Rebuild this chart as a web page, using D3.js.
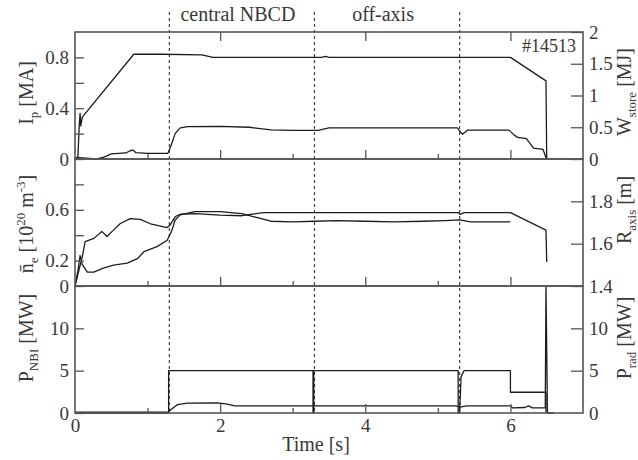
<!DOCTYPE html>
<html>
<head>
<meta charset="utf-8">
<script src="https://cdn.jsdelivr.net/npm/d3@7"></script>
<style>
  body { margin: 0; background: #fff; }
  svg { display: block; }
  text { font-family: "Liberation Serif", "Times New Roman", serif; fill: #383838; }
</style>
</head>
<body>
<svg id="chart" width="638" height="460"></svg>
<script>
// ---- time traces (time in s) ----
const ipT = [0, 0.04, 0.06, 0.07, 0.08, 0.1, 0.81, 1.2, 1.75, 1.9, 3.4, 3.45, 3.5, 4.5, 5.3, 6.0, 6.49, 6.5];
const ipV = [0, 0.02, 0.28, 0.36, 0.26, 0.33, 0.825, 0.825, 0.82, 0.80, 0.80, 0.808, 0.80, 0.80, 0.80, 0.80, 0.615, 0];

const wT = [0, 0.05, 0.3, 0.4, 0.5, 0.7, 0.76, 0.8, 0.84, 1.0, 1.28, 1.32, 1.38, 1.45, 1.55, 2.0, 2.4, 2.7, 3.0, 3.35, 3.5, 4.5, 5.27, 5.3, 5.34, 5.41, 5.98, 6.05, 6.1, 6.22, 6.3, 6.32, 6.45, 6.49, 6.52];
const wV = [0, 0.02, 0.0, 0.03, 0.08, 0.095, 0.13, 0.14, 0.1, 0.09, 0.09, 0.2, 0.4, 0.49, 0.51, 0.515, 0.5, 0.46, 0.45, 0.45, 0.49, 0.49, 0.49, 0.44, 0.39, 0.455, 0.455, 0.38, 0.34, 0.32, 0.2, 0.17, 0.15, 0.02, 0];

const neT = [0, 0.04, 0.07, 0.1, 0.17, 0.26, 0.39, 0.53, 0.72, 0.86, 0.95, 1.13, 1.27, 1.33, 1.38, 1.45, 1.65, 2.0, 2.3, 2.5, 2.7, 3.0, 3.3, 3.6, 4.0, 4.4, 4.8, 5.1, 5.3, 5.45, 5.7, 6.0];
const neV = [0, 0.12, 0.24, 0.17, 0.11, 0.11, 0.14, 0.165, 0.18, 0.215, 0.27, 0.31, 0.36, 0.43, 0.52, 0.56, 0.585, 0.585, 0.57, 0.54, 0.51, 0.505, 0.51, 0.515, 0.51, 0.505, 0.51, 0.515, 0.52, 0.505, 0.505, 0.505];

const rT = [0, 0.1, 0.14, 0.26, 0.37, 0.44, 0.53, 0.62, 0.76, 0.9, 1.04, 1.27, 1.31, 1.38, 1.45, 1.65, 2.0, 2.3, 2.6, 3.3, 4.5, 5.28, 5.31, 5.36, 6.0, 6.49, 6.5];
const rV = [1.40, 1.538, 1.61, 1.625, 1.658, 1.634, 1.664, 1.694, 1.718, 1.715, 1.694, 1.676, 1.688, 1.727, 1.739, 1.742, 1.735, 1.732, 1.747, 1.747, 1.747, 1.747, 1.738, 1.747, 1.747, 1.664, 1.514];

const nbiT = [0, 1.29, 1.29, 3.28, 3.28, 3.29, 3.29, 5.28, 5.28, 5.3, 5.32, 5.36, 6.0, 6.0, 6.49, 6.49];
const nbiV = [0, 0, 5, 5, 0, 0, 5, 5, 0, 0, 4.3, 5, 5, 2.45, 2.45, 0];

const radT = [0, 1.28, 1.35, 1.41, 1.55, 1.96, 2.1, 2.2, 3.3, 4.0, 5.25, 5.3, 5.4, 6.0, 6.03, 6.2, 6.25, 6.3, 6.48, 6.49, 6.51, 6.6];
const radV = [0.1, 0.1, 0.6, 0.98, 1.17, 1.2, 1.05, 0.85, 0.85, 0.85, 0.85, 0.7, 0.85, 0.85, 0.6, 0.65, 0.85, 0.6, 0.6, 15, 0, 0];

// phase markers and their captions
const phaseTimes = [1.3, 3.3, 5.3];
const phaseLabels = ["central NBCD", "off-axis"];
const shotLabel = "#14513";

// axis ticks
const timeTicks = [0, 2, 4, 6];
const timeMinor = [1, 3, 5];

// ---- layout ----
const svg = d3.select("#chart");
const X0 = 75, X1 = 583;
const panelTop = [32, 159, 286];
const panelH = 127;
const Y_END = panelTop[2] + panelH;

const x = d3.scaleLinear().domain([0, 7]).range([X0, X1]);
const yIp = d3.scaleLinear().domain([0, 1]).range([panelTop[0] + panelH, panelTop[0]]);
const yW = d3.scaleLinear().domain([0, 2]).range([panelTop[0] + panelH, panelTop[0]]);
const yNe = d3.scaleLinear().domain([0, 1]).range([panelTop[1] + panelH, panelTop[1]]);
const yR = d3.scaleLinear().domain([1.4, 2.0]).range([panelTop[1] + panelH, panelTop[1]]);
const yNbi = d3.scaleLinear().domain([0, 15]).range([panelTop[2] + panelH, panelTop[2]]);
const yRad = d3.scaleLinear().domain([0, 15]).range([panelTop[2] + panelH, panelTop[2]]);

const FRAME = "#555";
const INK = "#1c1c1c";

// clip each panel so traces stay inside the frame
panelTop.forEach((t, i) => {
  svg.append("clipPath").attr("id", "clip" + i)
    .append("rect").attr("x", X0).attr("y", t - 1).attr("width", X1 - X0).attr("height", panelH + 2);
});

// ---- phase dividers ----
svg.append("g").selectAll("line").data(phaseTimes).join("line")
  .attr("x1", d => x(d)).attr("x2", d => x(d))
  .attr("y1", 12).attr("y2", Y_END)
  .attr("stroke", "#444").attr("stroke-width", 1.2)
  .attr("stroke-dasharray", "3,3");

// ---- traces ----
function trace(panel, T, V, yScale) {
  const line = d3.line().x(d => x(d[0])).y(d => yScale(d[1]));
  svg.append("path")
    .attr("clip-path", `url(#clip${panel})`)
    .attr("d", line(d3.zip(T, V)))
    .attr("fill", "none").attr("stroke", INK).attr("stroke-width", 1.3)
    .attr("stroke-linejoin", "round");
}
trace(0, ipT, ipV, yIp);
trace(0, wT, wV, yW);
trace(1, neT, neV, yNe);
trace(1, rT, rV, yR);
trace(2, nbiT, nbiV, yNbi);
trace(2, radT, radV, yRad);

// ---- axes ----
function styleAxis(g) {
  g.select(".domain").remove();
  g.selectAll(".tick line").attr("stroke", FRAME).attr("stroke-width", 1.3);
  g.selectAll(".tick text").attr("font-size", 19).attr("fill", "#383838")
    .attr("font-family", '"Liberation Serif","Times New Roman",serif');
}

panelTop.forEach((top, i) => {
  const bottom = top + panelH;
  // inward time ticks on each panel's lower edge
  svg.append("g").attr("transform", `translate(0,${bottom})`)
    .call(d3.axisBottom(x).tickValues([2, 4, 6]).tickSize(-9).tickFormat(""))
    .call(styleAxis);
  svg.append("g").attr("transform", `translate(0,${bottom})`)
    .call(d3.axisBottom(x).tickValues(timeMinor).tickSize(-5).tickFormat(""))
    .call(styleAxis);
});
// top edge ticks
svg.append("g").attr("transform", `translate(0,${panelTop[0]})`)
  .call(d3.axisTop(x).tickValues([2, 4, 6]).tickSize(-9).tickFormat(""))
  .call(styleAxis);
// time labels
svg.append("g").attr("transform", `translate(0,${Y_END})`)
  .call(d3.axisBottom(x).tickValues(timeTicks).tickSize(0).tickPadding(6).tickFormat(d3.format("d")))
  .call(styleAxis);

function leftAxis(scale, values, labeled, fmt) {
  svg.append("g").attr("transform", `translate(${X0},0)`)
    .call(d3.axisLeft(scale).tickValues(values).tickSize(-9).tickPadding(6)
      .tickFormat(d => labeled.includes(d) ? fmt(d) : ""))
    .call(styleAxis);
}
function rightAxis(scale, values, labeled, fmt) {
  svg.append("g").attr("transform", `translate(${X1},0)`)
    .call(d3.axisRight(scale).tickValues(values).tickSize(-12).tickPadding(6)
      .tickFormat(d => labeled.includes(d) ? fmt(d) : ""))
    .call(styleAxis);
}
const f1 = d => d === 0 ? "0" : d3.format(".1f")(d);
const fg = d => String(d);

leftAxis(yIp, [0, 0.2, 0.4, 0.6, 0.8], [0, 0.4, 0.8], f1);
leftAxis(yNe, [0, 0.2, 0.4, 0.6, 0.8], [0, 0.2, 0.6], f1);
leftAxis(yNbi, [0, 5, 10], [0, 5, 10], fg);
rightAxis(yW, [0, 0.5, 1, 1.5, 2], [0, 0.5, 1, 1.5, 2], fg);
rightAxis(yR, [1.6, 1.8], [1.4, 1.6, 1.8], f1);
rightAxis(yR, [1.4], [1.4], f1);
rightAxis(yNbi, [5, 10], [0, 5, 10], fg);
svg.append("g").attr("transform", `translate(${X1},0)`)
  .call(d3.axisRight(yRad).tickValues([0]).tickSize(0).tickPadding(6).tickFormat(fg))
  .call(styleAxis);

// ---- frames ----
panelTop.forEach(top => {
  svg.append("rect").attr("x", X0).attr("y", top).attr("width", X1 - X0).attr("height", panelH)
    .attr("fill", "none").attr("stroke", FRAME).attr("stroke-width", 1.6);
});

// ---- text ----
function rich(g, parts, size) {
  const t = g.append("text").attr("font-size", size).attr("text-anchor", "middle");
  let shift = 0;
  parts.forEach(p => {
    const target = p.sub ? 5 : p.sup ? -8 : 0;
    t.append("tspan").text(p.t)
      .attr("dy", target - shift)
      .attr("font-size", p.sub || p.sup ? Math.round(size * 0.65) : size);
    shift = target;
  });
  return t;
}
function vTitle(xPos, yPos, parts) {
  const g = svg.append("g").attr("transform", `translate(${xPos},${yPos}) rotate(-90)`);
  rich(g, parts, 20);
}
vTitle(33, 93, [{ t: "I" }, { t: "p", sub: true }, { t: " [MA]" }]);
vTitle(33, 224, [{ t: "n\u0304" }, { t: "e", sub: true }, { t: " [10" }, { t: "20", sup: true }, { t: " m" }, { t: "-3", sup: true }, { t: "]" }]);
vTitle(33, 338, [{ t: "P" }, { t: "NBI", sub: true }, { t: " [MW]" }]);
vTitle(631, 92, [{ t: "W" }, { t: "store", sub: true }, { t: " [MJ]" }]);
vTitle(631, 210, [{ t: "R" }, { t: "axis", sub: true }, { t: " [m]" }]);
vTitle(631, 338, [{ t: "P" }, { t: "rad", sub: true }, { t: " [MW]" }]);

// phase captions centred between dividers
phaseLabels.forEach((s, i) => {
  svg.append("text").attr("x", x((phaseTimes[i] + phaseTimes[i + 1]) / 2) - 4).attr("y", 21)
    .attr("text-anchor", "middle").attr("font-size", 20).text(s);
});
svg.append("text").attr("x", 576).attr("y", 52).attr("text-anchor", "end")
  .attr("font-size", 18).text(shotLabel);

svg.append("text").attr("x", 316).attr("y", 451).attr("text-anchor", "middle")
  .attr("font-size", 20).text("Time [s]");
</script>
</body>
</html>
